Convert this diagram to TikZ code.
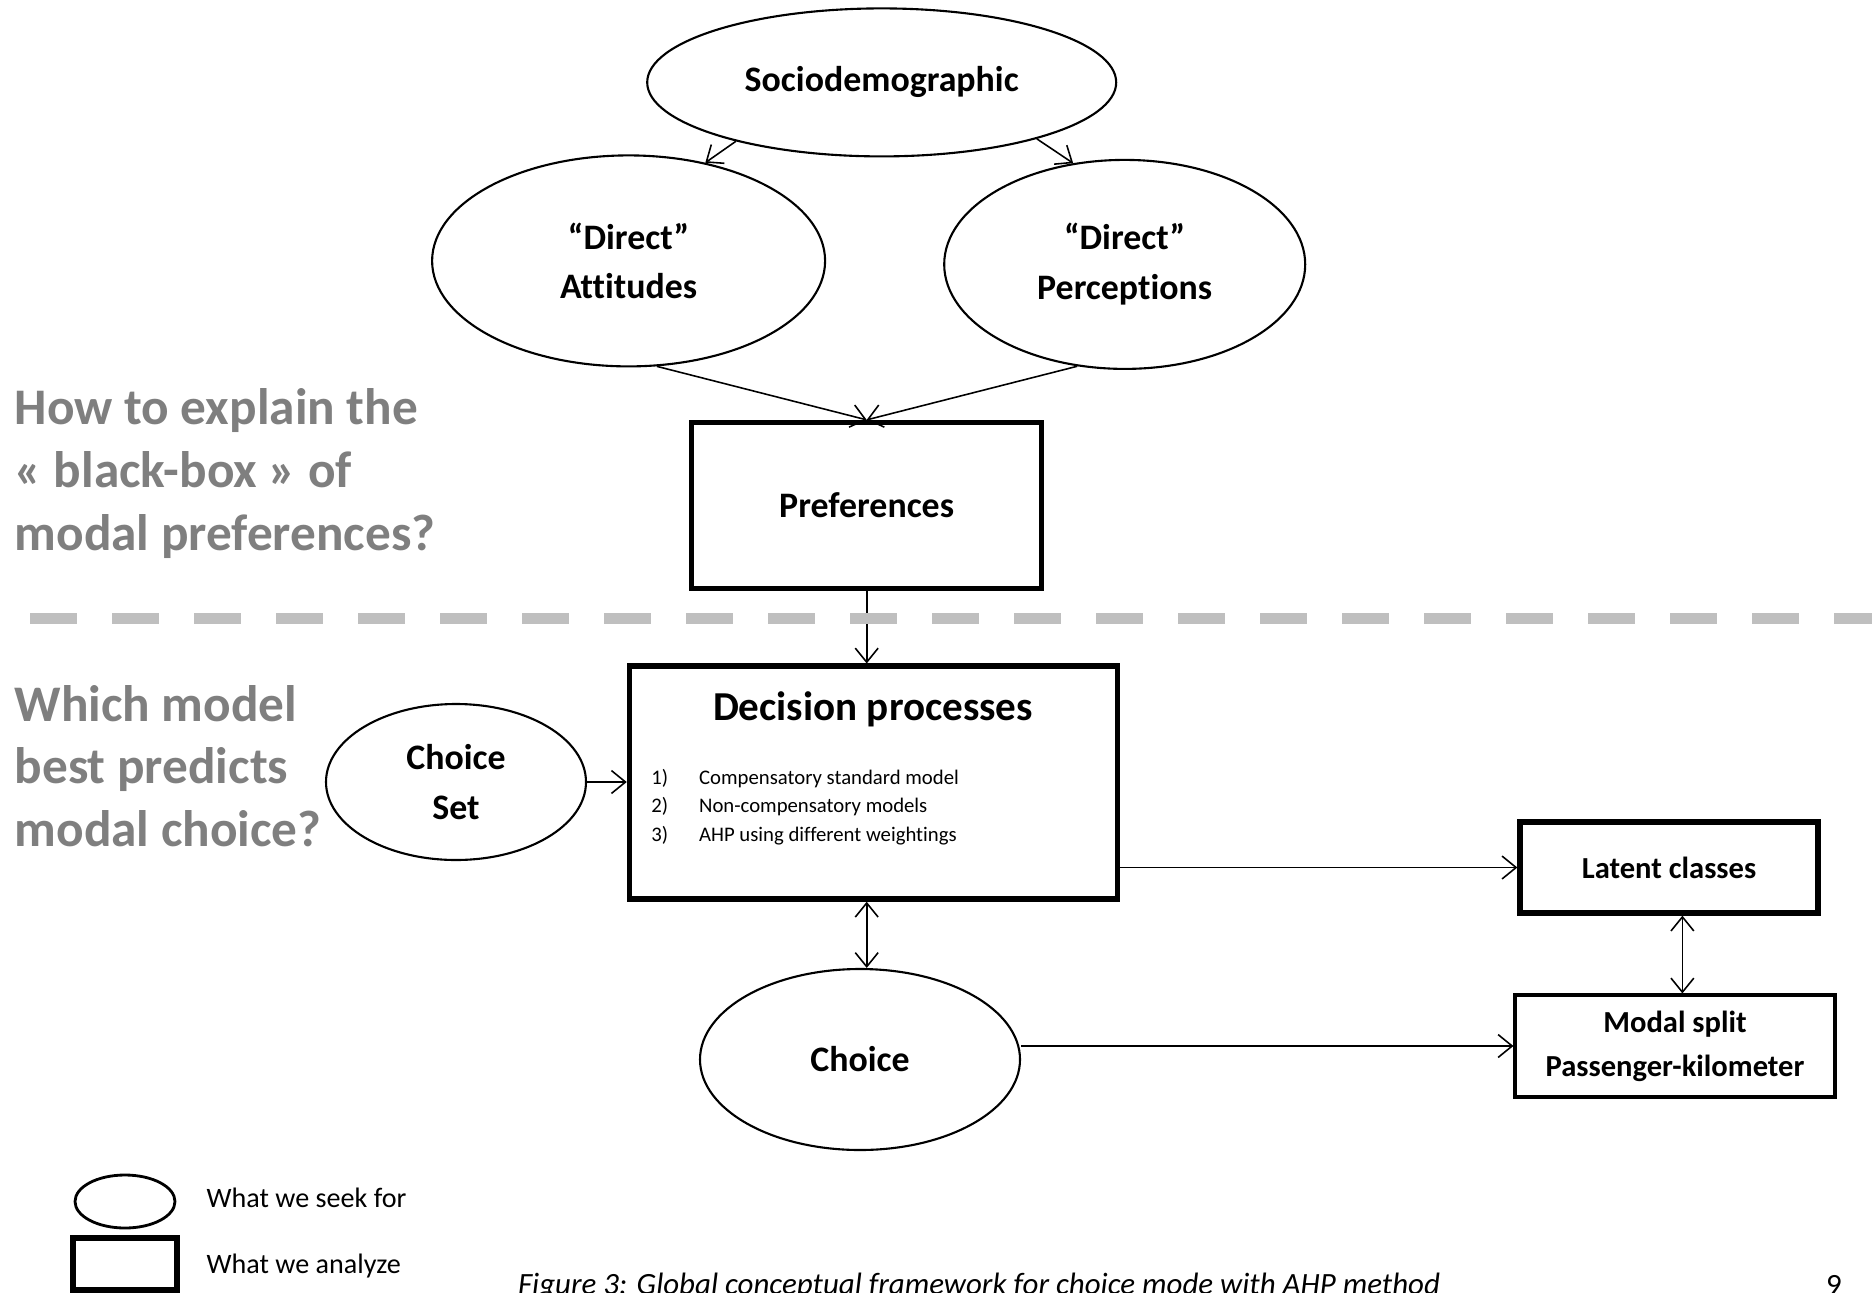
\documentclass[tikz,border=0pt]{standalone}
\usepackage{fontspec}
\setmainfont{Carlito}[Ligatures=NoCommon]
\usetikzlibrary{shapes.geometric,arrows.meta}
\definecolor{qgray}{HTML}{7F7F7F}
\definecolor{dashgray}{HTML}{BFBFBF}
\begin{document}
\begin{tikzpicture}[x=0.1mm,y=-0.1mm,>={Straight Barb[length=4pt,width=6.5pt]},
    seek/.style={ellipse,draw,line width=0.6pt,inner sep=0pt,align=center,font=\fontsize{10.2}{14.2}\selectfont\bfseries},
    analyze/.style={rectangle,draw,line width=1.5pt,inner sep=0pt,align=center,font=\fontsize{10.2}{14.2}\selectfont\bfseries},
    question/.style={anchor=west,align=left,inner sep=0pt,text=qgray,font=\fontsize{14.6}{17.8}\selectfont\bfseries},
    link/.style={line width=0.45pt}]
    \useasboundingbox (0,0) rectangle (1872,1292);

    % Upper part
    \node[seek,minimum width=46.9mm,minimum height=14.8mm] (soc) at (881.7,82.4) {Sociodemographic};
    \node[seek,minimum width=39.3mm,minimum height=21.1mm] (att) at (628.6,260.9) {“Direct”\\Attitudes};
    \node[seek,minimum width=36.1mm,minimum height=20.9mm] (per) at (1124.7,264.4) {“Direct”\\Perceptions};
    \node[analyze,minimum width=35mm,minimum height=16.6mm] (pref) at (866.7,505.5) {Preferences};

    \draw[link,->] (soc.-158) -- (att.52);
    \draw[link,->] (soc.-20) -- (per.117);
    \draw[link,->] (att.-75) -- (pref.north);
    \draw[link,->] (per.-115) -- (pref.north);

    % Lower part
    \node[analyze,minimum width=48.8mm,minimum height=23.3mm] (dec) at (873.4,782.6) {};
    \node[font=\fontsize{11.7}{14}\selectfont\bfseries] (dectitle) at (873,709) {Decision processes};
    \node[anchor=west,align=left,inner sep=0pt,font=\fontsize{5.9}{8.14}\selectfont] (declist) at (650.7,807)
        {\makebox[4.77mm][l]{1)}Compensatory standard model\\
         \makebox[4.77mm][l]{2)}Non-compensatory models\\
         \makebox[4.77mm][l]{3)}AHP using different weightings};
    \node[seek,minimum width=26mm,minimum height=15.6mm] (cs) at (456,782) {Choice\\Set};
    \node[seek,minimum width=32mm,minimum height=18.1mm] (ch) at (860,1059.5) {Choice};
    \node[analyze,minimum width=29.8mm,minimum height=9.1mm,font=\fontsize{8.7}{12.5}\selectfont\bfseries] (lat) at (1669,867.5) {Latent classes};
    \node[analyze,line width=0.9pt,minimum width=32mm,minimum height=10.2mm,font=\fontsize{8.7}{12.5}\selectfont\bfseries] (mod) at (1675,1046) {Modal split\\Passenger-kilometer};

    \draw[link,->] (pref.south) -- (pref.south |- dec.north);
    \draw[link,->] (cs.east) -- (cs.east -| dec.west);
    \draw[link,<->] (dec.south -| pref.south) -- (ch.north -| pref.south);
    \draw[link,->] (dec.east |- lat.west) -- (lat.west);
    \draw[link,<->] (mod.82 |- lat.south) -- (mod.82);
    \draw[link,->] (ch.east |- mod.west) -- (mod.west);

    % Separation and questions
    \draw[dashgray,line width=1.1mm,dash pattern=on 4.67mm off 3.53mm] (30,618.5) -- (1872,618.5);
    \node[question] (q1) at (14,473.5) {How to explain the\\« black-box » of\\modal preferences?};
    \node[question] (q2) at (14,766) {Which model\\best predicts\\modal choice?};

    % Legend
    \node[ellipse,draw,line width=0.8pt,minimum width=10mm,minimum height=5.3mm] (legseek) at (125,1201.5) {};
    \node[rectangle,draw,line width=1.5pt,minimum width=10.4mm,minimum height=5.2mm] (legana) at (125,1264) {};
    \node[anchor=west,inner sep=0pt,font=\fontsize{8}{10}\selectfont] (legseektxt) at (206,1198) {What we seek for};
    \node[anchor=west,inner sep=0pt,font=\fontsize{8}{10}\selectfont] (leganatxt) at (206,1266) {What we analyze};

    % Caption and page number
    \node[anchor=base,inner sep=0pt,font=\fontsize{8.8}{10}\selectfont\itshape] (caption) at (979,1294)
        {Figure 3: Global conceptual framework for choice mode with AHP method};
    \node[anchor=base,inner sep=0pt,font=\fontsize{8.8}{10}\selectfont] (page) at (1834,1295) {9};
\end{tikzpicture}
\end{document}
